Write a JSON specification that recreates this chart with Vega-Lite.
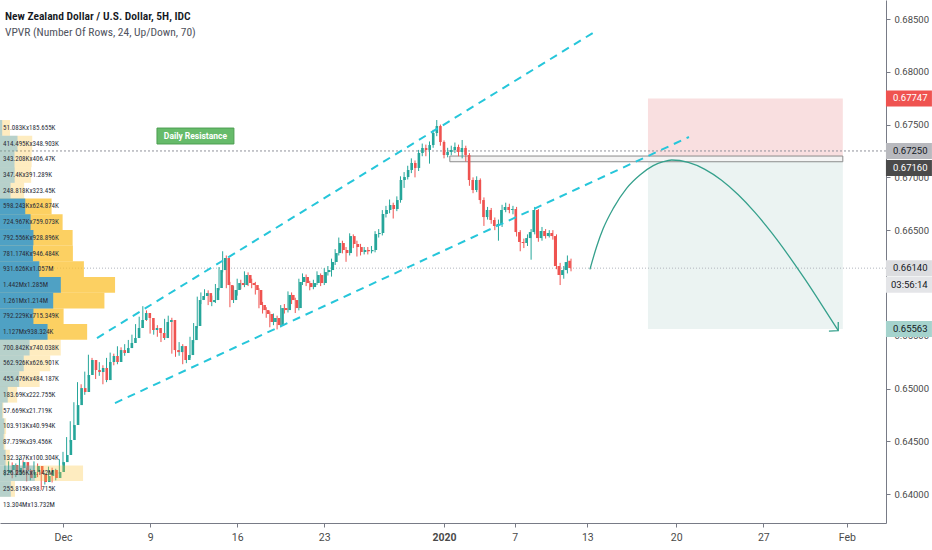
{
  "$schema": "https://vega.github.io/schema/vega-lite/v6.json",
  "width": 886,
  "height": 523,
  "autosize": {"type": "none"},
  "padding": {"left": 0, "top": 0, "right": 46, "bottom": 27},
  "background": "white",
  "config": {"view": {"stroke": null}, "font": "Roboto"},
  "data": {"values": [{}]},
  "datasets": {
    "candles": [
      {"i":-16,"o":0.64200,"h":0.64270,"l":0.64170,"c":0.64228},
      {"i":-15,"o":0.64228,"h":0.64310,"l":0.64200,"c":0.64275},
      {"i":-14,"o":0.64275,"h":0.64300,"l":0.64150,"c":0.64180},
      {"i":-13,"o":0.64180,"h":0.64290,"l":0.64160,"c":0.64247},
      {"i":-12,"o":0.64247,"h":0.64340,"l":0.64220,"c":0.64303},
      {"i":-11,"o":0.64303,"h":0.64320,"l":0.64200,"c":0.64228},
      {"i":-10,"o":0.64228,"h":0.64250,"l":0.64120,"c":0.64152},
      {"i":-9,"o":0.64152,"h":0.64240,"l":0.64130,"c":0.64209},
      {"i":-8,"o":0.64209,"h":0.64310,"l":0.64190,"c":0.64266},
      {"i":-7,"o":0.64266,"h":0.64290,"l":0.64160,"c":0.64190},
      {"i":-6,"o":0.64190,"h":0.64210,"l":0.64040,"c":0.64114},
      {"i":-5,"o":0.64114,"h":0.64200,"l":0.64090,"c":0.64171},
      {"i":-4,"o":0.64171,"h":0.64260,"l":0.64150,"c":0.64228},
      {"i":-3,"o":0.64228,"h":0.64250,"l":0.64110,"c":0.64152},
      {"i":-2,"o":0.64152,"h":0.64240,"l":0.64130,"c":0.64209},
      {"i":-1,"o":0.64209,"h":0.64330,"l":0.64190,"c":0.64303},
      {"i":0,"o":0.64303,"h":0.64400,"l":0.64280,"c":0.64370},
      {"i":1,"o":0.64370,"h":0.64540,"l":0.64350,"c":0.64512},
      {"i":2,"o":0.64512,"h":0.64690,"l":0.64490,"c":0.64654},
      {"i":3,"o":0.64654,"h":0.64870,"l":0.64630,"c":0.64843},
      {"i":4,"o":0.64843,"h":0.65060,"l":0.64820,"c":0.65004},
      {"i":5,"o":0.65004,"h":0.65040,"l":0.64900,"c":0.64967},
      {"i":6,"o":0.64967,"h":0.65160,"l":0.64940,"c":0.65128},
      {"i":7,"o":0.65128,"h":0.65320,"l":0.65100,"c":0.65270},
      {"i":8,"o":0.65270,"h":0.65290,"l":0.65140,"c":0.65175},
      {"i":9,"o":0.65175,"h":0.65230,"l":0.65090,"c":0.65156},
      {"i":10,"o":0.65156,"h":0.65250,"l":0.65120,"c":0.65194},
      {"i":11,"o":0.65194,"h":0.65220,"l":0.65040,"c":0.65080},
      {"i":12,"o":0.65080,"h":0.65290,"l":0.65060,"c":0.65251},
      {"i":13,"o":0.65251,"h":0.65340,"l":0.65200,"c":0.65308},
      {"i":14,"o":0.65308,"h":0.65330,"l":0.65220,"c":0.65251},
      {"i":15,"o":0.65251,"h":0.65400,"l":0.65230,"c":0.65364},
      {"i":16,"o":0.65364,"h":0.65390,"l":0.65290,"c":0.65336},
      {"i":17,"o":0.65336,"h":0.65420,"l":0.65310,"c":0.65383},
      {"i":18,"o":0.65383,"h":0.65460,"l":0.65360,"c":0.65431},
      {"i":19,"o":0.65431,"h":0.65510,"l":0.65400,"c":0.65478},
      {"i":20,"o":0.65478,"h":0.65610,"l":0.65450,"c":0.65573},
      {"i":21,"o":0.65573,"h":0.65680,"l":0.65550,"c":0.65649},
      {"i":22,"o":0.65649,"h":0.65780,"l":0.65620,"c":0.65715},
      {"i":23,"o":0.65715,"h":0.65740,"l":0.65640,"c":0.65668},
      {"i":24,"o":0.65668,"h":0.65690,"l":0.65520,"c":0.65554},
      {"i":25,"o":0.65554,"h":0.65610,"l":0.65510,"c":0.65573},
      {"i":26,"o":0.65573,"h":0.65600,"l":0.65490,"c":0.65526},
      {"i":27,"o":0.65526,"h":0.65550,"l":0.65440,"c":0.65478},
      {"i":28,"o":0.65478,"h":0.65660,"l":0.65460,"c":0.65630},
      {"i":29,"o":0.65630,"h":0.65690,"l":0.65600,"c":0.65649},
      {"i":30,"o":0.65649,"h":0.65670,"l":0.65330,"c":0.65364},
      {"i":31,"o":0.65364,"h":0.65400,"l":0.65300,"c":0.65345},
      {"i":32,"o":0.65345,"h":0.65440,"l":0.65310,"c":0.65402},
      {"i":33,"o":0.65402,"h":0.65420,"l":0.65230,"c":0.65270},
      {"i":34,"o":0.65270,"h":0.65350,"l":0.65240,"c":0.65317},
      {"i":35,"o":0.65317,"h":0.65490,"l":0.65290,"c":0.65459},
      {"i":36,"o":0.65459,"h":0.65620,"l":0.65430,"c":0.65592},
      {"i":37,"o":0.65592,"h":0.65870,"l":0.65570,"c":0.65838},
      {"i":38,"o":0.65838,"h":0.65910,"l":0.65800,"c":0.65876},
      {"i":39,"o":0.65876,"h":0.65940,"l":0.65850,"c":0.65904},
      {"i":40,"o":0.65904,"h":0.65930,"l":0.65790,"c":0.65819},
      {"i":41,"o":0.65819,"h":0.65880,"l":0.65780,"c":0.65838},
      {"i":42,"o":0.65838,"h":0.65990,"l":0.65810,"c":0.65952},
      {"i":43,"o":0.65952,"h":0.66150,"l":0.65930,"c":0.66122},
      {"i":44,"o":0.66122,"h":0.66300,"l":0.66100,"c":0.66236},
      {"i":45,"o":0.66236,"h":0.66260,"l":0.65950,"c":0.65980},
      {"i":46,"o":0.65980,"h":0.66010,"l":0.65770,"c":0.65838},
      {"i":47,"o":0.65838,"h":0.65970,"l":0.65810,"c":0.65933},
      {"i":48,"o":0.65933,"h":0.66040,"l":0.65880,"c":0.65999},
      {"i":49,"o":0.65999,"h":0.66030,"l":0.65940,"c":0.65980},
      {"i":50,"o":0.65980,"h":0.66110,"l":0.65960,"c":0.66075},
      {"i":51,"o":0.66075,"h":0.66100,"l":0.65970,"c":0.65999},
      {"i":52,"o":0.65999,"h":0.66040,"l":0.65950,"c":0.65980},
      {"i":53,"o":0.65980,"h":0.66010,"l":0.65890,"c":0.65933},
      {"i":54,"o":0.65933,"h":0.65950,"l":0.65760,"c":0.65791},
      {"i":55,"o":0.65791,"h":0.65820,"l":0.65710,"c":0.65743},
      {"i":56,"o":0.65743,"h":0.65770,"l":0.65670,"c":0.65706},
      {"i":57,"o":0.65706,"h":0.65730,"l":0.65580,"c":0.65630},
      {"i":58,"o":0.65630,"h":0.65710,"l":0.65600,"c":0.65668},
      {"i":59,"o":0.65668,"h":0.65690,"l":0.65560,"c":0.65601},
      {"i":60,"o":0.65601,"h":0.65790,"l":0.65580,"c":0.65762},
      {"i":61,"o":0.65762,"h":0.65800,"l":0.65710,"c":0.65743},
      {"i":62,"o":0.65743,"h":0.65920,"l":0.65720,"c":0.65886},
      {"i":63,"o":0.65886,"h":0.65910,"l":0.65800,"c":0.65838},
      {"i":64,"o":0.65838,"h":0.65860,"l":0.65715,"c":0.65762},
      {"i":65,"o":0.65762,"h":0.66040,"l":0.65740,"c":0.66009},
      {"i":66,"o":0.66009,"h":0.66090,"l":0.65980,"c":0.66056},
      {"i":67,"o":0.66056,"h":0.66080,"l":0.65970,"c":0.65999},
      {"i":68,"o":0.65999,"h":0.66020,"l":0.65930,"c":0.65961},
      {"i":69,"o":0.65961,"h":0.66030,"l":0.65940,"c":0.65999},
      {"i":70,"o":0.65999,"h":0.66110,"l":0.65980,"c":0.66075},
      {"i":71,"o":0.66075,"h":0.66090,"l":0.65970,"c":0.65999},
      {"i":72,"o":0.65999,"h":0.66140,"l":0.65980,"c":0.66103},
      {"i":73,"o":0.66103,"h":0.66160,"l":0.66070,"c":0.66122},
      {"i":74,"o":0.66122,"h":0.66230,"l":0.66060,"c":0.66198},
      {"i":75,"o":0.66198,"h":0.66320,"l":0.66170,"c":0.66283},
      {"i":76,"o":0.66283,"h":0.66430,"l":0.66260,"c":0.66378},
      {"i":77,"o":0.66378,"h":0.66400,"l":0.66280,"c":0.66312},
      {"i":78,"o":0.66312,"h":0.66340,"l":0.66200,"c":0.66283},
      {"i":79,"o":0.66283,"h":0.66470,"l":0.66260,"c":0.66444},
      {"i":80,"o":0.66444,"h":0.66460,"l":0.66330,"c":0.66369},
      {"i":81,"o":0.66369,"h":0.66400,"l":0.66250,"c":0.66340},
      {"i":82,"o":0.66340,"h":0.66370,"l":0.66260,"c":0.66293},
      {"i":83,"o":0.66293,"h":0.66340,"l":0.66270,"c":0.66312},
      {"i":84,"o":0.66312,"h":0.66340,"l":0.66270,"c":0.66300},
      {"i":85,"o":0.66300,"h":0.66350,"l":0.66280,"c":0.66312},
      {"i":86,"o":0.66312,"h":0.66490,"l":0.66290,"c":0.66463},
      {"i":87,"o":0.66463,"h":0.66510,"l":0.66430,"c":0.66473},
      {"i":88,"o":0.66473,"h":0.66690,"l":0.66450,"c":0.66653},
      {"i":89,"o":0.66653,"h":0.66730,"l":0.66620,"c":0.66691},
      {"i":90,"o":0.66691,"h":0.66790,"l":0.66660,"c":0.66738},
      {"i":91,"o":0.66738,"h":0.66760,"l":0.66610,"c":0.66700},
      {"i":92,"o":0.66700,"h":0.66820,"l":0.66680,"c":0.66785},
      {"i":93,"o":0.66785,"h":0.67010,"l":0.66760,"c":0.66975},
      {"i":94,"o":0.66975,"h":0.67050,"l":0.66900,"c":0.67003},
      {"i":95,"o":0.67003,"h":0.67110,"l":0.66980,"c":0.67070},
      {"i":96,"o":0.67070,"h":0.67180,"l":0.67040,"c":0.67136},
      {"i":97,"o":0.67136,"h":0.67160,"l":0.67000,"c":0.67089},
      {"i":98,"o":0.67089,"h":0.67260,"l":0.67060,"c":0.67231},
      {"i":99,"o":0.67231,"h":0.67320,"l":0.67200,"c":0.67278},
      {"i":100,"o":0.67278,"h":0.67310,"l":0.67200,"c":0.67259},
      {"i":101,"o":0.67259,"h":0.67340,"l":0.67130,"c":0.67306},
      {"i":102,"o":0.67306,"h":0.67450,"l":0.67280,"c":0.67420},
      {"i":103,"o":0.67420,"h":0.67543,"l":0.67390,"c":0.67486},
      {"i":104,"o":0.67486,"h":0.67500,"l":0.67300,"c":0.67335},
      {"i":105,"o":0.67335,"h":0.67350,"l":0.67180,"c":0.67212},
      {"i":106,"o":0.67212,"h":0.67280,"l":0.67190,"c":0.67240},
      {"i":107,"o":0.67240,"h":0.67300,"l":0.67210,"c":0.67259},
      {"i":108,"o":0.67259,"h":0.67330,"l":0.67230,"c":0.67288},
      {"i":109,"o":0.67288,"h":0.67310,"l":0.67200,"c":0.67240},
      {"i":110,"o":0.67240,"h":0.67354,"l":0.67180,"c":0.67278},
      {"i":111,"o":0.67278,"h":0.67300,"l":0.67150,"c":0.67212},
      {"i":112,"o":0.67212,"h":0.67230,"l":0.66920,"c":0.66975},
      {"i":113,"o":0.66975,"h":0.67000,"l":0.66850,"c":0.66880},
      {"i":114,"o":0.66880,"h":0.67010,"l":0.66860,"c":0.66975},
      {"i":115,"o":0.66975,"h":0.66990,"l":0.66750,"c":0.66785},
      {"i":116,"o":0.66785,"h":0.66810,"l":0.66540,"c":0.66624},
      {"i":117,"o":0.66624,"h":0.66720,"l":0.66600,"c":0.66691},
      {"i":118,"o":0.66691,"h":0.66710,"l":0.66560,"c":0.66596},
      {"i":119,"o":0.66596,"h":0.66620,"l":0.66500,"c":0.66539},
      {"i":120,"o":0.66539,"h":0.66600,"l":0.66400,"c":0.66558},
      {"i":121,"o":0.66558,"h":0.66740,"l":0.66530,"c":0.66691},
      {"i":122,"o":0.66691,"h":0.66760,"l":0.66670,"c":0.66719},
      {"i":123,"o":0.66719,"h":0.66750,"l":0.66660,"c":0.66691},
      {"i":124,"o":0.66691,"h":0.66730,"l":0.66650,"c":0.66700},
      {"i":125,"o":0.66700,"h":0.66720,"l":0.66440,"c":0.66482},
      {"i":126,"o":0.66482,"h":0.66500,"l":0.66300,"c":0.66388},
      {"i":127,"o":0.66388,"h":0.66420,"l":0.66330,"c":0.66378},
      {"i":128,"o":0.66378,"h":0.66460,"l":0.66350,"c":0.66425},
      {"i":129,"o":0.66425,"h":0.66510,"l":0.66220,"c":0.66482},
      {"i":130,"o":0.66482,"h":0.66720,"l":0.66460,"c":0.66691},
      {"i":131,"o":0.66691,"h":0.66700,"l":0.66390,"c":0.66425},
      {"i":132,"o":0.66425,"h":0.66530,"l":0.66400,"c":0.66492},
      {"i":133,"o":0.66492,"h":0.66510,"l":0.66420,"c":0.66444},
      {"i":134,"o":0.66444,"h":0.66500,"l":0.66430,"c":0.66473},
      {"i":135,"o":0.66473,"h":0.66500,"l":0.66410,"c":0.66444},
      {"i":136,"o":0.66444,"h":0.66460,"l":0.66130,"c":0.66160},
      {"i":137,"o":0.66160,"h":0.66190,"l":0.65980,"c":0.66075},
      {"i":138,"o":0.66075,"h":0.66160,"l":0.66040,"c":0.66122},
      {"i":139,"o":0.66122,"h":0.66260,"l":0.66090,"c":0.66198},
      {"i":140,"o":0.66210,"h":0.66230,"l":0.66110,"c":0.66141}
    ],
    "vp": [
      {"lo":0.673943,"hi":0.675430,"u":0.0511,"ud":0.2367,"lab":"51.083Kx185.655K"},
      {"lo":0.672456,"hi":0.673943,"u":0.4145,"ud":0.7634,"lab":"414.495Kx348.903K"},
      {"lo":0.670969,"hi":0.672456,"u":0.3432,"ud":0.7497,"lab":"343.208Kx406.47K"},
      {"lo":0.669482,"hi":0.670969,"u":0.3474,"ud":0.7387,"lab":"347.4Kx391.289K"},
      {"lo":0.667995,"hi":0.669482,"u":0.2488,"ud":0.5723,"lab":"248.818Kx323.45K"},
      {"lo":0.666508,"hi":0.667995,"u":0.5982,"ud":1.2231,"lab":"598.243Kx624.874K"},
      {"lo":0.665021,"hi":0.666508,"u":0.7250,"ud":1.4840,"lab":"724.967Kx759.073K"},
      {"lo":0.663534,"hi":0.665021,"u":0.7926,"ud":1.7215,"lab":"792.556Kx928.896K"},
      {"lo":0.662047,"hi":0.663534,"u":0.7812,"ud":1.7277,"lab":"781.174Kx946.484K"},
      {"lo":0.660560,"hi":0.662047,"u":0.9316,"ud":1.9886,"lab":"931.626Kx1.057M"},
      {"lo":0.659073,"hi":0.660560,"u":1.4420,"ud":2.7270,"lab":"1.442Mx1.285M"},
      {"lo":0.657586,"hi":0.659073,"u":1.2610,"ud":2.4750,"lab":"1.261Mx1.214M"},
      {"lo":0.656099,"hi":0.657586,"u":0.7922,"ud":1.5076,"lab":"792.229Kx715.349K"},
      {"lo":0.654612,"hi":0.656099,"u":1.1270,"ud":2.0653,"lab":"1.127Mx938.324K"},
      {"lo":0.653125,"hi":0.654612,"u":0.7008,"ud":1.4409,"lab":"700.842Kx740.038K"},
      {"lo":0.651638,"hi":0.653125,"u":0.5629,"ud":1.1898,"lab":"562.926Kx626.901K"},
      {"lo":0.650151,"hi":0.651638,"u":0.4555,"ud":0.9397,"lab":"455.476Kx484.187K"},
      {"lo":0.648664,"hi":0.650151,"u":0.1837,"ud":0.4064,"lab":"183.69Kx222.755K"},
      {"lo":0.647177,"hi":0.648664,"u":0.0577,"ud":0.0794,"lab":"57.669Kx21.719K"},
      {"lo":0.645690,"hi":0.647177,"u":0.1039,"ud":0.1449,"lab":"103.913Kx40.994K"},
      {"lo":0.644203,"hi":0.645690,"u":0.0877,"ud":0.1272,"lab":"87.739Kx39.456K"},
      {"lo":0.642716,"hi":0.644203,"u":0.1323,"ud":0.2326,"lab":"132.337Kx100.304K"},
      {"lo":0.641229,"hi":0.642716,"u":0.8263,"ud":1.9683,"lab":"826.256Kx1.142M"},
      {"lo":0.639742,"hi":0.641229,"u":0.2558,"ud":0.3545,"lab":"255.815Kx98.715K"}
    ],
    "channel": [
      {"ln":"upper","i":9.37,"p":0.65478},
      {"ln":"upper","i":146.87,"p":0.68386},
      {"ln":"lower","i":14.33,"p":0.64862},
      {"ln":"lower","i":172.5,"p":0.67382}
    ],
    "curve": [
      {"i":145.21,"p":0.661285},
      {"i":147.05,"p":0.663432},
      {"i":148.89,"p":0.665169},
      {"i":151.64,"p":0.667064},
      {"i":155.31,"p":0.668959},
      {"i":158.99,"p":0.670222},
      {"i":162.66,"p":0.671106},
      {"i":165.42,"p":0.671485},
      {"i":167.72,"p":0.671643},
      {"i":172.31,"p":0.671415},
      {"i":176.90,"p":0.670762},
      {"i":181.49,"p":0.669726},
      {"i":186.09,"p":0.668349},
      {"i":190.68,"p":0.666682},
      {"i":195.27,"p":0.664765},
      {"i":199.86,"p":0.662640},
      {"i":204.46,"p":0.660357},
      {"i":209.04,"p":0.657954},
      {"i":213.64,"p":0.655475}
    ],
    "arrow": [
      {"n":0,"i":211.07,"p":0.655440},
      {"n":1,"i":213.64,"p":0.655475},
      {"n":2,"i":213.64,"p":0.656296}
    ],
    "tags": [
      {"p":0.67747,"lab":"0.67747","k":"stop"},
      {"p":0.67250,"lab":"0.67250","k":"line"},
      {"p":0.66140,"lab":"0.66140","k":"last"},
      {"p":0.65563,"lab":"0.65563","k":"target"}
    ]
  },
  "resolve": {"scale": {"x": "independent"}},
  "layer": [
    {
      "mark": {"type": "rect", "color": "#f9dfe0"},
      "encoding": {
        "x": {
          "datum": 161.2, "type": "quantitative",
          "scale": {"domain": [-17.36, 226.8], "nice": false, "zero": false},
          "axis": {
            "values": [0, 24, 48, 72, 105, 124.5, 144.5, 169, 193, 216],
            "labelExpr": "datum.value == 0 ? 'Dec' : datum.value == 24 ? '9' : datum.value == 48 ? '16' : datum.value == 72 ? '23' : datum.value == 105 ? '2020' : datum.value == 124.5 ? '7' : datum.value == 144.5 ? '13' : datum.value == 169 ? '20' : datum.value == 193 ? '27' : 'Feb'",
            "title": null, "grid": false,
            "domainColor": "#787b86", "tickColor": "#787b86",
            "tickSize": 4, "labelPadding": 5,
            "labelFontSize": 10.5, "labelColor": "#4a4a4a",
            "labelFontWeight": {"condition": {"test": "datum.value == 105", "value": "bold"}, "value": "normal"}
          }
        },
        "x2": {"datum": 214.9},
        "y": {
          "datum": 0.67747, "type": "quantitative",
          "scale": {"domain": [0.63726, 0.6868], "nice": false, "zero": false},
          "axis": {
            "orient": "right",
            "values": [0.64, 0.645, 0.65, 0.655, 0.665, 0.67, 0.675, 0.68, 0.685],
            "format": ".5f", "title": null, "grid": false,
            "domainColor": "#787b86", "tickColor": "#787b86",
            "tickSize": 4, "labelPadding": 4,
            "labelFontSize": 9.5, "labelColor": "#4a4a4a"
          }
        },
        "y2": {"datum": 0.6716}
      }
    },
    {
      "mark": {"type": "rect", "color": "#ebf3f2"},
      "encoding": {
        "x": {"datum": 161.2, "type": "quantitative", "scale": {"domain": [-17.36, 226.8], "nice": false, "zero": false}, "axis": null},
        "x2": {"datum": 214.9},
        "y": {"datum": 0.6716, "type": "quantitative"},
        "y2": {"datum": 0.65563}
      }
    },
    {
      "mark": {"type": "rule", "color": "#8f929b", "strokeDash": [2, 2], "strokeWidth": 1},
      "encoding": {"y": {"datum": 0.6725, "type": "quantitative"}}
    },
    {
      "mark": {"type": "rule", "color": "#b2b5be", "strokeDash": [1, 2], "strokeWidth": 1},
      "encoding": {"y": {"datum": 0.6614, "type": "quantitative"}}
    },
    {
      "mark": {"type": "rect", "fill": "#f4f4f4", "stroke": "#8c8c8c", "strokeWidth": 1},
      "encoding": {
        "x": {"datum": 106.6, "type": "quantitative", "scale": {"domain": [-17.36, 226.8], "nice": false, "zero": false}, "axis": null},
        "x2": {"datum": 214.9},
        "y": {"datum": 0.67202, "type": "quantitative"},
        "y2": {"datum": 0.67148}
      }
    },
    {
      "data": {"name": "candles"},
      "mark": {"type": "rule", "strokeWidth": 1},
      "encoding": {
        "x": {"field": "i", "type": "quantitative", "scale": {"domain": [-17.36, 226.8], "nice": false, "zero": false}, "axis": null},
        "y": {"field": "l", "type": "quantitative"},
        "y2": {"field": "h"},
        "color": {"condition": {"test": "datum.c >= datum.o", "value": "#26a69a"}, "value": "#ef5350"}
      }
    },
    {
      "data": {"name": "candles"},
      "mark": {"type": "bar", "width": 2.6},
      "encoding": {
        "x": {"field": "i", "type": "quantitative", "scale": {"domain": [-17.36, 226.8], "nice": false, "zero": false}, "axis": null},
        "y": {"field": "o", "type": "quantitative"},
        "y2": {"field": "c"},
        "color": {"condition": {"test": "datum.c >= datum.o", "value": "#26a69a"}, "value": "#ef5350"}
      }
    },
    {
      "data": {"name": "vp"},
      "mark": {"type": "rect", "color": "#fbc02d"},
      "encoding": {
        "x": {"field": "ud", "type": "quantitative", "scale": {"domain": [0, 21], "nice": false, "zero": false}, "axis": null},
        "y": {"field": "lo", "type": "quantitative"},
        "y2": {"field": "hi"},
        "opacity": {"condition": {"test": "datum.lo > 0.654 && datum.hi < 0.668", "value": 0.75}, "value": 0.3}
      }
    },
    {
      "data": {"name": "vp"},
      "mark": {"type": "rect", "color": "#1592e6"},
      "encoding": {
        "x": {"field": "u", "type": "quantitative", "scale": {"domain": [0, 21], "nice": false, "zero": false}, "axis": null},
        "y": {"field": "lo", "type": "quantitative"},
        "y2": {"field": "hi"},
        "opacity": {"condition": {"test": "datum.lo > 0.654 && datum.hi < 0.668", "value": 0.75}, "value": 0.3}
      }
    },
    {
      "data": {"name": "vp"},
      "mark": {"type": "text", "align": "left", "baseline": "middle", "dx": 3, "dy": -7.8, "fontSize": 7, "color": "#2a2e39", "font": "Liberation Sans Narrow, Roboto Condensed, Roboto"},
      "encoding": {
        "x": {"datum": 0, "type": "quantitative", "scale": {"domain": [0, 21], "nice": false, "zero": false}, "axis": null},
        "y": {"field": "lo", "type": "quantitative"},
        "text": {"field": "lab", "type": "nominal"}
      }
    },
    {
      "mark": {"type": "text", "align": "left", "baseline": "middle", "dx": 3, "fontSize": 7, "color": "#2a2e39", "font": "Liberation Sans Narrow, Roboto Condensed, Roboto"},
      "encoding": {
        "x": {"datum": 0, "type": "quantitative", "scale": {"domain": [0, 21], "nice": false, "zero": false}, "axis": null},
        "y": {"datum": 0.63896, "type": "quantitative"},
        "text": {"value": "13.304Mx13.732M"}
      }
    },
    {
      "data": {"name": "channel"},
      "mark": {"type": "line", "color": "#26c6da", "strokeWidth": 2, "strokeDash": [8, 6]},
      "encoding": {
        "x": {"field": "i", "type": "quantitative", "scale": {"domain": [-17.36, 226.8], "nice": false, "zero": false}, "axis": null},
        "y": {"field": "p", "type": "quantitative"},
        "detail": {"field": "ln", "type": "nominal"}
      }
    },
    {
      "data": {"name": "curve"},
      "mark": {"type": "line", "color": "#35a08c", "strokeWidth": 1.3, "interpolate": "monotone"},
      "encoding": {
        "x": {"field": "i", "type": "quantitative", "scale": {"domain": [-17.36, 226.8], "nice": false, "zero": false}, "axis": null},
        "y": {"field": "p", "type": "quantitative"}
      }
    },
    {
      "data": {"name": "arrow"},
      "mark": {"type": "line", "color": "#35a08c", "strokeWidth": 1.3},
      "encoding": {
        "x": {"field": "i", "type": "quantitative", "scale": {"domain": [-17.36, 226.8], "nice": false, "zero": false}, "axis": null},
        "y": {"field": "p", "type": "quantitative"},
        "order": {"field": "n", "type": "quantitative"}
      }
    },
    {
      "mark": {"type": "rect", "fill": "#66bb6a", "stroke": "#4c9e50", "strokeWidth": 1},
      "encoding": {
        "x": {"datum": 25.9, "type": "quantitative", "scale": {"domain": [-17.36, 226.8], "nice": false, "zero": false}, "axis": null},
        "x2": {"datum": 47.1},
        "y": {"datum": 0.67467, "type": "quantitative"},
        "y2": {"datum": 0.67316}
      }
    },
    {
      "mark": {"type": "text", "color": "white", "fontWeight": "bold", "fontSize": 8.5, "align": "center", "baseline": "middle"},
      "encoding": {
        "x": {"datum": 36.5, "type": "quantitative", "scale": {"domain": [-17.36, 226.8], "nice": false, "zero": false}, "axis": null},
        "y": {"datum": 0.67391, "type": "quantitative"},
        "text": {"value": "Daily Resistance"}
      }
    },
    {
      "mark": {"type": "text", "color": "#131722", "fontWeight": 600, "fontSize": 11.5, "align": "left", "baseline": "middle", "font": "Liberation Sans Narrow, Roboto Condensed, Roboto"},
      "encoding": {
        "x": {"datum": -16.0, "type": "quantitative", "scale": {"domain": [-17.36, 226.8], "nice": false, "zero": false}, "axis": null},
        "y": {"datum": 0.68519, "type": "quantitative"},
        "text": {"value": "New Zealand Dollar / U.S. Dollar, 5H, IDC"}
      }
    },
    {
      "mark": {"type": "text", "color": "#50535e", "fontSize": 11.5, "align": "left", "baseline": "middle", "font": "Liberation Sans Narrow, Roboto Condensed, Roboto"},
      "encoding": {
        "x": {"datum": -16.0, "type": "quantitative", "scale": {"domain": [-17.36, 226.8], "nice": false, "zero": false}, "axis": null},
        "y": {"datum": 0.68367, "type": "quantitative"},
        "text": {"value": "VPVR (Number Of Rows, 24, Up/Down, 70)"}
      }
    },
    {
      "data": {"name": "tags"},
      "mark": {"type": "point", "filled": true, "opacity": 1, "size": 2116, "shape": "M-1,-0.348H1V0.348H-1Z"},
      "encoding": {
        "x": {"datum": 233.12, "type": "quantitative", "scale": {"domain": [-17.36, 226.8], "nice": false, "zero": false}, "axis": null},
        "y": {"field": "p", "type": "quantitative"},
        "color": {
          "condition": [
            {"test": "datum.k == 'stop'", "value": "#ef5350"},
            {"test": "datum.k == 'line'", "value": "#b8b9be"},
            {"test": "datum.k == 'target'", "value": "#a5d3cd"}
          ],
          "value": "#dcdde0"
        }
      }
    },
    {
      "data": {"name": "tags"},
      "mark": {"type": "text", "align": "left", "baseline": "middle", "dx": 7, "fontSize": 9.5},
      "encoding": {
        "x": {"datum": 226.8, "type": "quantitative", "scale": {"domain": [-17.36, 226.8], "nice": false, "zero": false}, "axis": null},
        "y": {"field": "p", "type": "quantitative"},
        "text": {"field": "lab", "type": "nominal"},
        "color": {"condition": {"test": "datum.k == 'stop'", "value": "white"}, "value": "#131722"}
      }
    },
    {
      "mark": {"type": "point", "filled": true, "opacity": 1, "size": 2116, "shape": "M-1,-0.348H1V0.348H-1Z", "color": "#4a4a4a", "yOffset": 7.5},
      "encoding": {
        "x": {"datum": 233.12, "type": "quantitative", "scale": {"domain": [-17.36, 226.8], "nice": false, "zero": false}, "axis": null},
        "y": {"datum": 0.6716, "type": "quantitative"}
      }
    },
    {
      "mark": {"type": "text", "align": "left", "baseline": "middle", "dx": 7, "dy": 7.5, "fontSize": 9.5, "color": "white"},
      "encoding": {
        "x": {"datum": 226.8, "type": "quantitative", "scale": {"domain": [-17.36, 226.8], "nice": false, "zero": false}, "axis": null},
        "y": {"datum": 0.6716, "type": "quantitative"},
        "text": {"value": "0.67160"}
      }
    },
    {
      "mark": {"type": "point", "filled": true, "opacity": 1, "size": 2116, "shape": "M-1,-0.348H1V0.348H-1Z", "color": "#e4e5e8", "yOffset": 16.5},
      "encoding": {
        "x": {"datum": 233.12, "type": "quantitative", "scale": {"domain": [-17.36, 226.8], "nice": false, "zero": false}, "axis": null},
        "y": {"datum": 0.6614, "type": "quantitative"}
      }
    },
    {
      "mark": {"type": "text", "align": "left", "baseline": "middle", "dx": 5, "dy": 16.5, "fontSize": 9.5, "color": "#131722"},
      "encoding": {
        "x": {"datum": 226.8, "type": "quantitative", "scale": {"domain": [-17.36, 226.8], "nice": false, "zero": false}, "axis": null},
        "y": {"datum": 0.6614, "type": "quantitative"},
        "text": {"value": "03:56:14"}
      }
    }
  ]
}
